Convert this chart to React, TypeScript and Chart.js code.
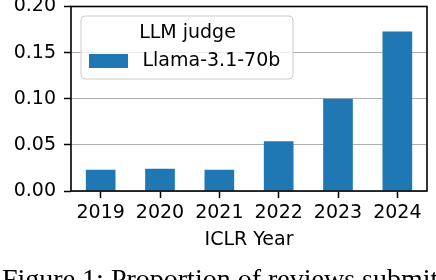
import React, { useEffect, useRef } from "react";
import { Chart, registerables } from "chart.js";

Chart.register(...registerables);

const years = ["2019", "2020", "2021", "2022", "2023", "2024"];
const llamaValues = [0.023, 0.024, 0.023, 0.054, 0.1, 0.173];
const seriesLabel = "Llama-3.1-70b";
const legendTitle = "LLM judge";
const xTitle = "ICLR Year";
const caption = "Figure 1: Proportion of reviews submitted";
const barColor = "#1f77b4";
const FONT = "'DejaVu Sans', sans-serif";
const FS = 19;

const framePlugin = {
  id: "frame",
  afterDatasetsDraw(chart: any) {
    const { ctx, chartArea } = chart;
    ctx.save();
    ctx.strokeStyle = "#000";
    ctx.lineWidth = 1.6;
    ctx.strokeRect(chartArea.left, chartArea.top, chartArea.right - chartArea.left, chartArea.bottom - chartArea.top);
    ctx.restore();
  },
};

const legendPlugin = {
  id: "customLegend",
  afterDraw(chart: any) {
    const { ctx } = chart;
    const ds = chart.data.datasets[0];
    const x = 81, y = 16, w = 212, h = 63, r = 4;
    ctx.save();
    ctx.beginPath();
    ctx.roundRect(x, y, w, h, r);
    ctx.fillStyle = "rgba(255,255,255,0.8)";
    ctx.fill();
    ctx.strokeStyle = "#cccccc";
    ctx.lineWidth = 1;
    ctx.stroke();
    ctx.font = `${FS}px ${FONT}`;
    ctx.fillStyle = "#000";
    ctx.textAlign = "center";
    ctx.textBaseline = "middle";
    ctx.fillText(legendTitle, 187.5, 33);
    ctx.fillStyle = ds.backgroundColor;
    ctx.fillRect(89, 54, 39, 14);
    ctx.fillStyle = "#000";
    ctx.textAlign = "left";
    ctx.fillText(ds.label, 142.5, 61.5);
    ctx.restore();
  },
};

export default function App() {
  const ref = useRef<HTMLCanvasElement>(null);
  useEffect(() => {
    document.body.style.margin = "0";
    const chart = new Chart(ref.current!, {
      type: "bar",
      data: {
        labels: years,
        datasets: [
          {
            label: seriesLabel,
            data: llamaValues,
            backgroundColor: barColor,
            barPercentage: 0.5,
            categoryPercentage: 1,
          },
        ],
      },
      options: {
        responsive: false,
        animation: false,
        layout: { padding: { left: 0, right: 9, top: 6.5, bottom: 29 } },
        plugins: { legend: { display: false }, tooltip: { enabled: false } },
        scales: {
          x: {
            grid: {
              drawOnChartArea: false,
              offset: false,
              drawTicks: true,
              tickLength: 7,
              tickColor: "#000",
              tickWidth: 1.5,
            },
            border: { display: false },
            ticks: { color: "#000", font: { family: FONT, size: FS }, padding: 4, maxRotation: 0 },
            title: { display: true, text: xTitle, color: "#000", font: { family: FONT, size: FS }, padding: 0 },
            afterFit: (s: any) => {
              s.height = 60;
              s.paddingLeft = 0;
              s.paddingRight = 0;
            },
          },
          y: {
            min: 0,
            max: 0.2,
            grid: {
              color: "#b0b0b0",
              lineWidth: 1,
              drawTicks: true,
              tickLength: 7,
              tickColor: "#000",
              tickWidth: 1.5,
            },
            border: { display: false },
            ticks: {
              stepSize: 0.05,
              color: "#000",
              font: { family: FONT, size: FS },
              padding: 8,
              callback: (v: any) => Number(v).toFixed(2),
            },
            afterFit: (s: any) => {
              s.width = 71;
              s.paddingTop = 0;
              s.paddingBottom = 0;
            },
          },
        },
      },
      plugins: [framePlugin, legendPlugin],
    });
    return () => chart.destroy();
  }, []);
  return (
    <div style={{ position: "fixed", left: 0, top: 0, width: 436, height: 280, overflow: "hidden", background: "#fff" }}>
      <canvas ref={ref} width={436} height={280} style={{ display: "block" }} />
      <div
        style={{
          position: "absolute",
          left: 2,
          top: 265,
          fontFamily: "'Liberation Serif', 'Times New Roman', serif",
          fontSize: 28,
          lineHeight: "28px",
          whiteSpace: "nowrap",
          color: "#000",
        }}
      >
        {caption}
      </div>
    </div>
  );
}
